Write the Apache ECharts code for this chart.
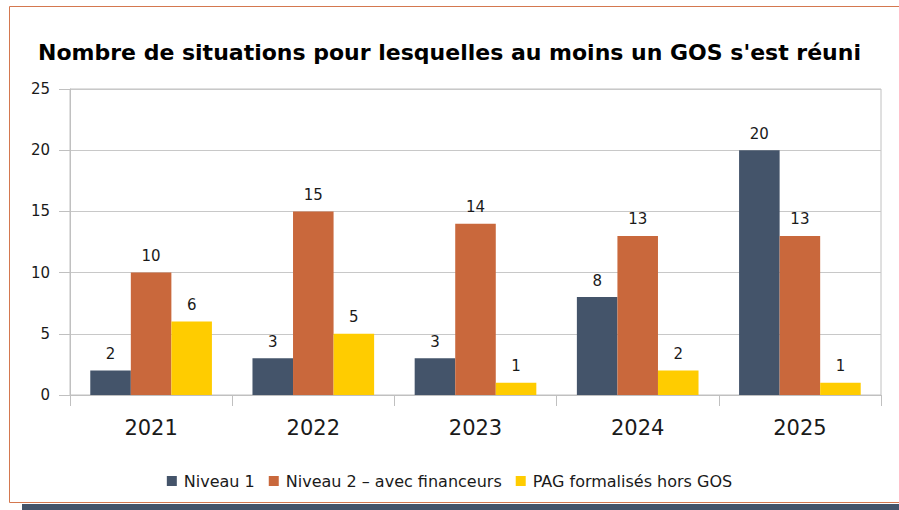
<!DOCTYPE html>
<html>
<head>
<meta charset="utf-8">
<script src="https://cdn.jsdelivr.net/npm/echarts@6/dist/echarts.min.js"></script>
<style>
  html, body { margin: 0; padding: 0; background: #ffffff; font-family: 'DejaVu Sans'; }
  #chart { width: 899px; height: 510px; }
</style>
</head>
<body>
<div id="chart"></div>
<script>
// Years shown on the category axis
const years = ['2021', '2022', '2023', '2024', '2025'];

// Number of situations per year and per kind of meeting
const niveau1 = [2, 3, 3, 8, 20];
const niveau2 = [10, 15, 14, 13, 13];
const pagHorsGos = [6, 5, 1, 2, 1];

// Value axis ticks
const yTicks = [0, 5, 10, 15, 20, 25];

const seriesNames = ['Niveau 1', 'Niveau 2 \u2013 avec financeurs', 'PAG formalisés hors GOS'];
const seriesColors = ['#44546a', '#c9683c', '#ffcc00'];

const font = 'DejaVu Sans';

const chart = echarts.init(document.getElementById('chart'), null, { renderer: 'svg' });

function barSeries(name, data, color) {
  return {
    name: name,
    type: 'bar',
    data: data,
    barGap: '0%',
    barCategoryGap: '25%',
    itemStyle: { color: color },
    label: {
      show: true,
      position: 'top',
      distance: 9,
      color: '#1a1a1a',
      fontFamily: font,
      fontSize: 15
    }
  };
}

chart.setOption({
  backgroundColor: '#ffffff',
  animation: false,
  textStyle: { fontFamily: font },
  title: {
    text: "Nombre de situations pour lesquelles au moins un GOS s'est réuni",
    left: 'center',
    top: 36,
    textStyle: { fontFamily: font, fontWeight: 'bold', fontSize: 22, color: '#000000' }
  },
  legend: {
    data: seriesNames,
    bottom: 16,
    left: 'center',
    icon: 'rect',
    itemWidth: 10,
    itemHeight: 10,
    itemGap: 14,
    textStyle: { fontFamily: font, fontSize: 16, color: '#1a1a1a', padding: [0, 0, 0, 2] }
  },
  grid: {
    left: 70,
    right: 18,
    top: 89,
    bottom: 115,
    show: true,
    borderColor: '#c0c0c0',
    borderWidth: 1
  },
  xAxis: {
    type: 'category',
    data: years,
    axisLine: { show: true, lineStyle: { color: '#c0c0c0', width: 1 } },
    axisTick: { show: true, length: 11, lineStyle: { color: '#c0c0c0' } },
    axisLabel: { fontFamily: font, fontSize: 21, color: '#1a1a1a', margin: 22 }
  },
  yAxis: {
    type: 'value',
    min: yTicks[0],
    max: yTicks[yTicks.length - 1],
    interval: yTicks[1] - yTicks[0],
    axisLine: { show: true, lineStyle: { color: '#c0c0c0', width: 1 } },
    axisTick: { show: true, length: 11, lineStyle: { color: '#c0c0c0' } },
    axisLabel: { fontFamily: font, fontSize: 15, color: '#1a1a1a', margin: 20 },
    splitLine: { show: true, lineStyle: { color: '#c8c8c8', width: 1 } }
  },
  series: [
    barSeries(seriesNames[0], niveau1, seriesColors[0]),
    barSeries(seriesNames[1], niveau2, seriesColors[1]),
    barSeries(seriesNames[2], pagHorsGos, seriesColors[2])
  ],
  graphic: [
    // dark band under the frame
    {
      type: 'rect',
      silent: true,
      z: -1,
      shape: { x: 22, y: 504, width: 900, height: 8 },
      style: { fill: '#44546a' }
    },
    // outer frame
    {
      type: 'rect',
      silent: true,
      z: 0,
      shape: { x: 9.5, y: 6.5, width: 900, height: 496 },
      style: { fill: null, stroke: '#d4784f', lineWidth: 1 }
    }
  ]
});
</script>
</body>
</html>
